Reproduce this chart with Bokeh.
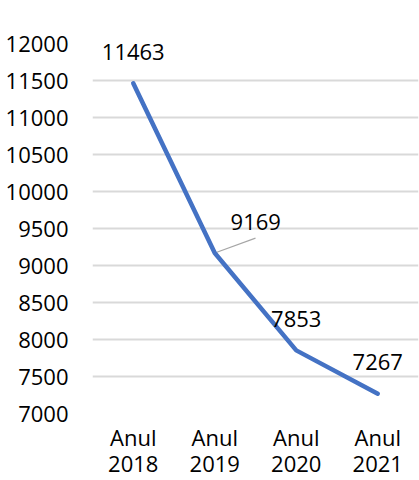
from bokeh.plotting import figure
from bokeh.models import FactorRange, Range1d, FixedTicker, ColumnDataSource
from bokeh.transform import dodge
from bokeh.core.properties import value
from bokeh.embed import file_html
from bokeh.resources import INLINE

categories = ["Anul\n2018", "Anul\n2019", "Anul\n2020", "Anul\n2021"]
values = [11463, 9169, 7853, 7267]
labels = ["11463", "9169", "7853", "7267"]
y_ticks = [7000, 7500, 8000, 8500, 9000, 9500, 10000, 10500, 11000, 11500, 12000]

FONT = "Open Sans"
FS = "22px"

p = figure(width=419, height=480, output_backend="svg", toolbar_location=None,
           x_range=FactorRange(factors=categories, range_padding=0),
           y_range=Range1d(y_ticks[0], y_ticks[-1]),
           min_border_left=92, min_border_right=1, min_border_top=43, min_border_bottom=66)
p.outline_line_color = None
p.background_fill_color = "white"
p.border_fill_color = "white"

src = ColumnDataSource(dict(x=categories, y=values, label=labels,
                            xo=[0, 41, 0, 0], yo=[-31, -31, -31, -32]))

# leader line for second label
px_per_unit = 372.0 / (y_ticks[-1] - y_ticks[0])
lead = ColumnDataSource(dict(x0=[categories[1]], y0=[values[1]], x1=[categories[1]],
                             y1=[values[1] + 15 / px_per_unit]))
p.segment(x0="x0", y0="y0", x1=dodge("x1", 0.5, range=p.x_range), y1="y1",
          source=lead, line_color="#a6a6a6", line_width=1.2)

p.line(x="x", y="y", source=src, line_color="#4472C4", line_width=4.5,
       line_cap="round", line_join="round")

p.text(x="x", y="y", text="label", source=src, x_offset="xo", y_offset="yo",
       text_font=value(FONT), text_font_size=FS, text_color="#000000",
       text_align="center", text_baseline="middle")

p.yaxis.ticker = FixedTicker(ticks=y_ticks)
p.yaxis.axis_line_color = None
p.yaxis.major_tick_line_color = None
p.yaxis.minor_tick_line_color = None
p.yaxis.major_label_standoff = 18
p.yaxis.major_label_text_font = FONT
p.yaxis.major_label_text_font_size = FS
p.yaxis.major_label_text_color = "#000000"

p.xaxis.axis_line_color = None
p.xaxis.major_tick_line_color = None
p.xaxis.minor_tick_line_color = None
p.xaxis.major_label_standoff = 2
p.xaxis.major_label_text_font = FONT
p.xaxis.major_label_text_font_size = FS
p.xaxis.major_label_text_color = "#000000"
p.xaxis.major_label_text_line_height = 0.87

p.xgrid.grid_line_color = None
p.ygrid.grid_line_color = "#d9d9d9"
p.ygrid.grid_line_width = 1.8

open("out.html", "w").write(file_html(p, INLINE))
